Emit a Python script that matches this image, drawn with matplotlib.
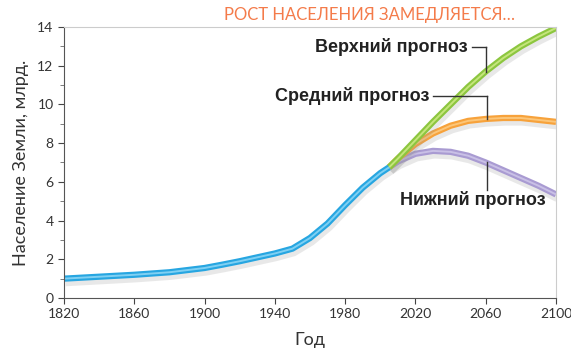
import matplotlib.pyplot as plt
import matplotlib.patheffects as pe

# Historical population (billions)
hist_years = [1820, 1840, 1860, 1880, 1900, 1910, 1920, 1930, 1940, 1950, 1960, 1970, 1980, 1990, 2000, 2005]
hist_pop = [1.0, 1.1, 1.2, 1.33, 1.55, 1.72, 1.9, 2.1, 2.3, 2.55, 3.1, 3.85, 4.8, 5.7, 6.45, 6.75]

# Projections
proj_years = [2005, 2010, 2020, 2030, 2040, 2050, 2060, 2070, 2080, 2090, 2100]
high_pop = [6.75, 7.2, 8.15, 9.1, 10.0, 10.9, 11.7, 12.4, 13.0, 13.5, 13.95]
mid_pop = [6.75, 7.2, 7.95, 8.5, 8.9, 9.15, 9.25, 9.3, 9.3, 9.2, 9.1]
low_pop = [6.75, 7.05, 7.45, 7.6, 7.55, 7.35, 7.0, 6.6, 6.2, 5.8, 5.35]

x_ticks = [1820, 1860, 1900, 1940, 1980, 2020, 2060, 2100]
y_ticks = [0, 2, 4, 6, 8, 10, 12, 14]

plt.rcParams['font.family'] = ['Lato', 'DejaVu Sans']

fig = plt.figure(figsize=(5.71, 3.56), dpi=100)
ax = fig.add_axes([64/571, 58/356, 492/571, 271/356])

shadow = [pe.SimpleLineShadow(offset=(1, -2.5), shadow_color='#999999', alpha=0.22, linewidth=6), pe.Normal()]

def draw(xs, ys, dark, light):
    ax.plot(xs, ys, color=dark, lw=4.5, solid_capstyle='butt', solid_joinstyle='round', path_effects=shadow)
    ax.plot(xs, ys, color=light, lw=1.4, solid_capstyle='butt', solid_joinstyle='round')

draw(proj_years, low_pop, '#a99bd2', '#c9c0e6')
draw(proj_years, mid_pop, '#f7a23b', '#fcc679')
draw(proj_years, high_pop, '#8cc63f', '#c5e57c')
draw(hist_years, hist_pop, '#27a6e1', '#7fd0f3')

ax.set_xlim(1820, 2100)
ax.set_ylim(0, 14)
ax.set_xticks(x_ticks)
ax.set_yticks(y_ticks)
ax.set_yticks(range(1, 14, 2), minor=True)
ax.tick_params(axis='both', direction='out', length=4, color='#444444', labelsize=10, labelcolor='#333333')
ax.tick_params(axis='y', which='minor', length=3, color='#666666')
for s in ['left', 'bottom']:
    ax.spines[s].set_color('#555555')
for s in ['top', 'right']:
    ax.spines[s].set_color('#cccccc')

ax.set_xlabel('Год', fontsize=13, color='#333333', labelpad=8)
ax.set_ylabel('Население Земли, млрд.', fontsize=13, color='#333333', labelpad=6)

fig.text(370/571, 0.958, 'РОСТ НАСЕЛЕНИЯ ЗАМЕДЛЯЕТСЯ…', color='#f47b4a', fontsize=12,
         ha='center', va='center')

lab = dict(fontsize=13, fontweight='bold', color='#222222', family=['Liberation Sans', 'DejaVu Sans'])
ax.text(2050, 12.96, 'Верхний прогноз', ha='right', va='center', **lab)
ax.plot([2052, 2060], [12.96, 12.96], color='#333333', lw=1)
ax.plot([2060, 2060], [12.96, 11.7], color='#333333', lw=1)

ax.text(2028, 10.43, 'Средний прогноз', ha='right', va='center', **lab)
ax.plot([2030, 2060.5], [10.43, 10.43], color='#333333', lw=1)
ax.plot([2060.5, 2060.5], [10.43, 9.25], color='#333333', lw=1)

ax.text(2094, 5.06, 'Нижний прогноз', ha='right', va='center', **lab)
ax.plot([2060.5, 2060.5], [7.0, 5.6], color='#333333', lw=1)

fig.savefig('out.png', dpi=100)
